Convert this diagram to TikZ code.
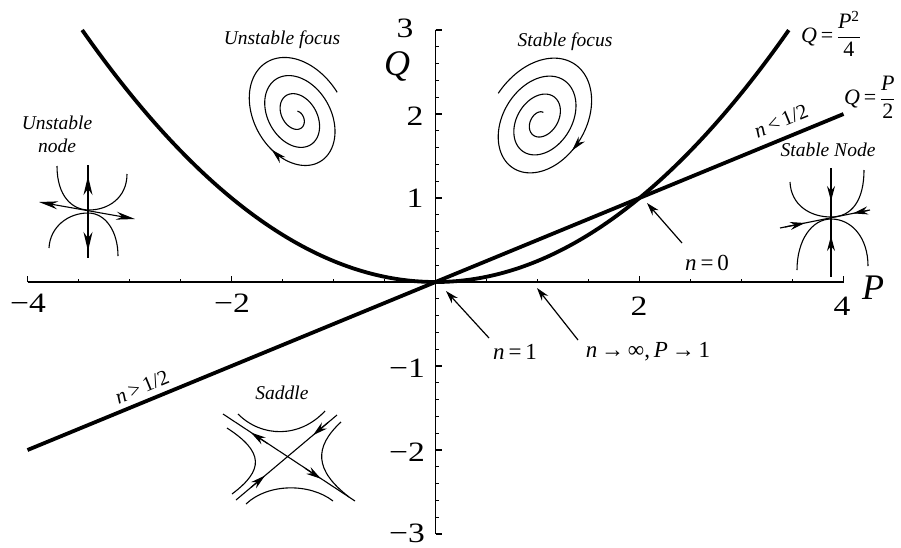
\documentclass[tikz,border=0pt]{standalone}
\usepackage{fontspec}
\usepackage{graphicx}
\setmainfont{Liberation Serif}
\usetikzlibrary{arrows.meta}
\newcommand{\wide}[1]{\scalebox{1.2}[1]{#1}}
\begin{document}
\begin{tikzpicture}[x=1pt,y=-1pt,
  curve/.style={line width=3.8pt},
  axisline/.style={line width=1.3pt},
  ph/.style={line width=1.1pt},
  ptr/.style={line width=1.2pt,-{Stealth[length=13pt,width=8pt]}},
  tipbig/.style={-{Stealth[length=19pt,width=9pt]}},
  tipmid/.style={-{Stealth[length=15pt,width=8pt]}},
  lbl/.style={font=\fontsize{19.5}{23}\selectfont\itshape, inner sep=0pt},
  nlbl/.style={font=\fontsize{23}{26}\selectfont, inner sep=1pt},
  ticklbl/.style={font=\fontsize{28}{30}\selectfont, inner sep=0pt},
  axlbl/.style={font=\fontsize{36}{40}\selectfont\itshape, inner sep=0pt},
  eqlbl/.style={font=\fontsize{22}{26}\selectfont, inner sep=0pt}]
\useasboundingbox (0,0) rectangle (901,547);

% axes
\coordinate (xl) at (27.5,282); \coordinate (xr) at (843.5,282);
\coordinate (yt) at (435.5,30); \coordinate (yb) at (435.5,534);
\draw[axisline] (xl) -- (xr);
\draw[axisline] (yt) -- (yb);
\foreach \i in {-8,...,8} \draw[axisline] ({435.5+51*\i},282) -- ++(0,-3.5);
\foreach \i in {-4,-2,2,4} \draw[axisline] ({435.5+102*\i},282) -- ++(0,-6);
\foreach \i in {-15,...,15} \draw[axisline] (435.5,{282+16.8*\i}) -- ++(3.5,0);
\foreach \i in {-3,...,3} \draw[axisline] (435.5,{282+84*\i}) -- ++(6,0);

% tick labels
\node[ticklbl] (xm4) at (28,303) {\wide{−4}};
\node[ticklbl] (xm2) at (232,303) {\wide{−2}};
\node[ticklbl] (xp2) at (639,306) {\wide{2}};
\node[ticklbl] (xp4) at (842,306) {\wide{4}};
\node[ticklbl] (yp3) at (405,28) {\wide{3}};
\node[ticklbl] (yp2) at (415,116) {\wide{2}};
\node[ticklbl] (yp1) at (415,198) {\wide{1}};
\node[ticklbl] (ym1) at (407,368) {\wide{−1}};
\node[ticklbl] (ym2) at (407,452) {\wide{−2}};
\node[ticklbl] (ym3) at (407,533) {\wide{−3}};
\node[axlbl] (Ql) at (397,66) {Q};
\node[axlbl] (Pl) at (873,288) {P};

% main curves
\draw[curve] plot[domain=-3.464:3.464, samples=120, smooth] ({435.5+102*\x},{282-21*\x*\x});
\coordinate (la) at (27.5,450); \coordinate (lb) at (843.5,114);
\draw[curve] (la) -- (lb);

% equation labels
\node[eqlbl, anchor=west] (eq1) at (801,34) {\textit{Q}\,=\,$\displaystyle\frac{\hbox{\textit{P}\textsuperscript{2}}}{\hbox{4}}$};
\node[eqlbl, anchor=west] (eq2) at (844,97) {\textit{Q}\,=\,$\displaystyle\frac{\hbox{\textit{P}}}{\hbox{2}}$};

% n labels along the line
\node[nlbl, rotate=22.38, font=\fontsize{21}{24}\selectfont] (nlt) at (781,121) {\textit{n}\,<\,1/2};
\node[nlbl, rotate=22.38, font=\fontsize{21}{24}\selectfont] (ngt) at (142,387) {\textit{n}\,>\,1/2};

% pointer labels
\node[nlbl] (n1) at (515,352) {\textit{n}\,=\,1};
\node[nlbl] (ninf) at (648,352) {\textit{n}\,→\,∞,\,\textit{P}\,→\,1};
\node[nlbl] (n0) at (707,263) {\textit{n}\,=\,0};
\coordinate (n1tail) at (489,338); \coordinate (n1tip) at (446,291);
\coordinate (nitail) at (578,340); \coordinate (nitip) at (537,288);
\coordinate (n0tail) at (682,243); \coordinate (n0tip) at (647,203);
\draw[ptr] (n1tail) -- (n1tip);
\draw[ptr] (nitail) -- (nitip);
\draw[ptr] (n0tail) -- (n0tip);

% region labels
\node[lbl] (uf) at (282,40) {Unstable focus};
\node[lbl] (sf) at (565,42) {Stable focus};
\node[lbl, align=center] (un) at (57,134) {Unstable\\node};
\node[lbl] (sn) at (828,150) {Stable Node};
\node[lbl] (sad) at (282,393) {Saddle};

% unstable focus spiral
\begin{scope}[shift={(296,116)}, rotate=-60]
\draw[ph, tipmid] plot[domain=235:1152, samples=300, smooth, variable=\t]
  ({(6+0.0538*(\t-235))*cos(\t)}, {0.72*(6+0.0538*(\t-235))*sin(\t)});
\draw[ph] plot[domain=1145:1350, samples=60, smooth, variable=\t]
  ({(6+0.0538*(\t-235))*cos(\t)}, {0.72*(6+0.0538*(\t-235))*sin(\t)});
\end{scope}

% stable focus spiral
\begin{scope}[shift={(541,120)}, rotate=58]
\draw[ph, tipmid] plot[domain=270:459, samples=80, smooth, variable=\t]
  ({(70-0.0538*(\t-270))*cos(\t)}, {0.72*(70-0.0538*(\t-270))*sin(\t)});
\draw[ph] plot[domain=452:1420, samples=300, smooth, variable=\t]
  ({(70-0.0538*(\t-270))*cos(\t)}, {0.72*(70-0.0538*(\t-270))*sin(\t)});
\end{scope}

% unstable node
\draw[ph] (88,165) -- (88,258);
\draw[ph, tipbig] (88,199) -- (88,176);
\draw[ph, tipbig] (88,223) -- (88,251);
\draw[ph, {Stealth[length=19pt,width=8pt]}-{Stealth[length=19pt,width=8pt]}] (39,202) -- (135,219);
\draw[ph] (57,166) .. controls (57,196) and (72,210) .. (89,210) .. controls (108,210) and (127,198) .. (127,174);
\draw[ph] (49,248) .. controls (50,227) and (68,213) .. (88,213) .. controls (106,213) and (118,232) .. (118,256);

% stable node
\draw[ph] (831,168) -- (831,277);
\draw[ph, tipmid] (831,185) -- (831,201);
\draw[ph, tipmid] (831,252) -- (831,236);
\draw[ph] (780,228) -- (870,210);
\draw[ph, tipmid] (785,227) -- (805,223);
\draw[ph, tipmid] (868,210.4) -- (853,213.4);
\draw[ph] (790,182) .. controls (791,205) and (810,217) .. (831,217) .. controls (852,217) and (864,200) .. (864,170);
\draw[ph] (797,270) .. controls (797,240) and (812,219) .. (831,219) .. controls (852,219) and (868,238) .. (868,266);

% saddle
\draw[ph] (223,414) -- (355,501);
\draw[ph, tipmid] (268,443.8) -- (251,432.6);
\draw[ph, tipmid] (305,468.2) -- (321,478.8);
\draw[ph] (236,500) -- (337,415);
\draw[ph, tipmid] (251,487.4) -- (265,475.6);
\draw[ph, tipmid] (328,422.5) -- (313,435.2);
\draw[ph] (238,414) .. controls (262,438) and (300,438) .. (325,411);
\draw[ph] (246,504) .. controls (268,483) and (310,483) .. (333,501);
\draw[ph] (227,428) .. controls (264,452) and (264,470) .. (232,494);
\draw[ph] (341,422) .. controls (314,447) and (314,470) .. (349,497);
\end{tikzpicture}
\end{document}
